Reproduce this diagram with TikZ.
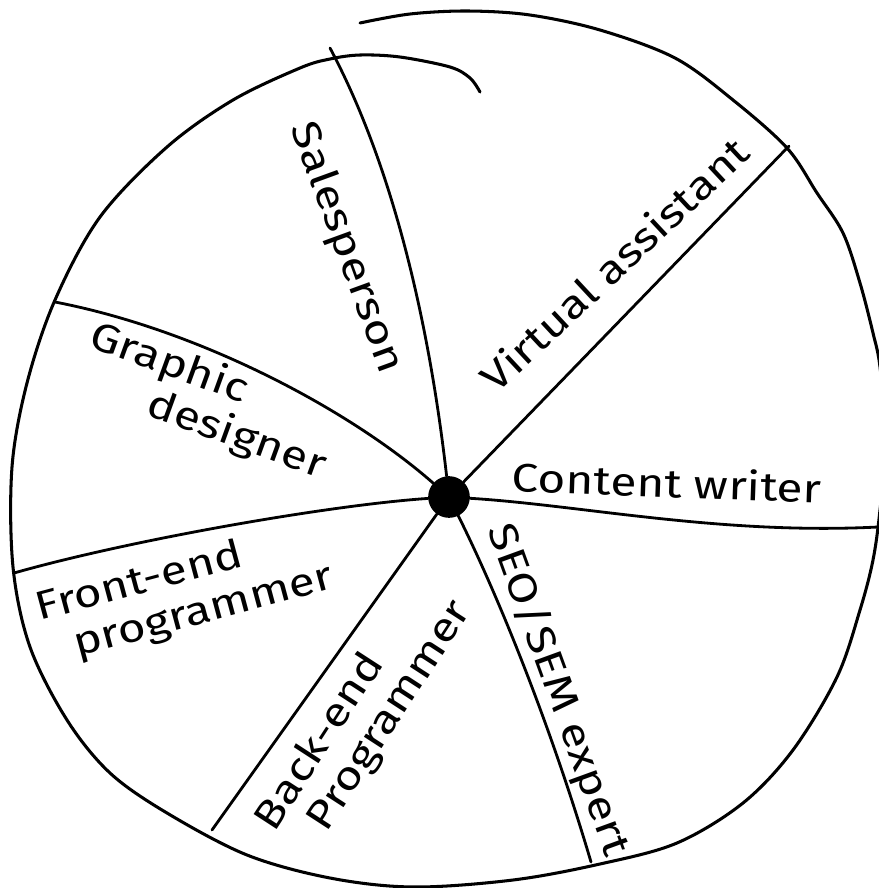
\documentclass[tikz,border=0pt]{standalone}
\usepackage{fontspec}
\setmainfont{Fira Sans}[FakeStretch=1.2]
\tikzset{
  rim/.style = {line width=2.6pt, line cap=round, line join=round},
  spoke/.style = {line width=2.4pt, line cap=round},
  hub/.style = {circle, fill=black, minimum size=1.25cm, inner sep=0pt},
  role/.style = {font=\fontsize{34}{38}\selectfont, inner sep=0pt, align=left}
}
\begin{document}
\begin{tikzpicture}[x=0.03cm, y=-0.03cm]
\useasboundingbox (0,0) rectangle (879,888);

\node[hub] (hub) at (449,497) {};

\coordinate (salesEnd) at (330,48);
\coordinate (vaEnd) at (789,146);
\coordinate (writerEnd) at (878,527);
\coordinate (seoEnd) at (591,862);
\coordinate (backEnd) at (212,830);
\coordinate (frontEnd) at (14,573);
\coordinate (graphicEnd) at (55,302);

\draw[rim] plot[smooth, tension=0.55] coordinates {
  (480,92) (470,78) (450,67) (400,57) (360,55) (330,59) (300,68) (233,100)
  (167,147) (100,217) (55,300) (27,383) (12,467) (13,567) (30,647) (67,720)
  (110,773) (167,813) (247,855) (330,878) (413,887) (513,880) (600,864)
  (677,843) (743,803) (793,750) (837,677) (860,610) (873,560) (880,510)
  (886,440) (880,367) (873,333) (860,283) (843,233) (817,193) (787,148)
  (733,100) (675,58) (600,30) (530,15) (468,11) (410,14) (360,23)};

\draw[spoke] (hub) .. controls (430,330) and (395,170) .. (salesEnd);
\draw[spoke] (hub) -- (vaEnd);
\draw[spoke] (hub) .. controls (580,505) and (720,535) .. (writerEnd);
\draw[spoke] (hub) .. controls (505,610) and (555,740) .. (seoEnd);
\draw[spoke] (hub) -- (backEnd);
\draw[spoke] (hub) .. controls (330,505) and (130,540) .. (frontEnd);
\draw[spoke] (hub) .. controls (350,410) and (200,330) .. (graphicEnd);

\node[role, rotate=-70] (sales) at (346,248) {Salesperson};
\node[role, rotate=43] (virtual) at (614,264) {Virtual assistant};
\node[role, rotate=-2] (writer) at (667,482) {Content writer};
\node[role, rotate=-70] (seo) at (558,690) {SEO/SEM expert};
\node[role, rotate=57] (backend) at (364,716) {Back-end\\\hspace*{0.85cm}Programmer};
\node[role, rotate=15] (frontend) at (185,594) {Front-end\\\hspace*{0.8cm}programmer};
\node[role, rotate=-20] (graphic) at (208,402) {Graphic\\\hspace*{2.3cm}designer};
\end{tikzpicture}
\end{document}
